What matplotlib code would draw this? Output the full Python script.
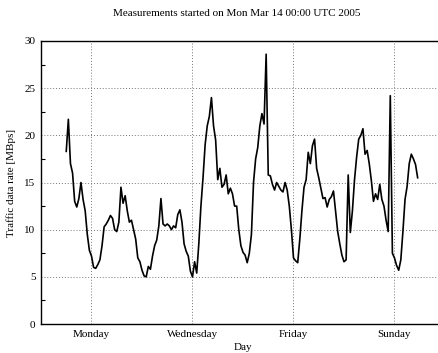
import numpy as np
import matplotlib
matplotlib.use("Agg")
import matplotlib.pyplot as plt
from matplotlib.ticker import MultipleLocator

# hourly traffic rate [MBps], starting Mon Mar 14 00:00 UTC 2005
rate = [
    # Monday
    18.3, 21.7, 17.0, 16.0, 13.0, 12.4, 13.3, 15.0, 13.2, 12.0, 9.5, 7.8,
    7.2, 6.0, 5.9, 6.3, 6.8, 8.3, 10.3, 10.6, 11.0, 11.5, 11.2, 10.0,
    # Tuesday
    9.8, 10.8, 14.5, 12.8, 13.6, 12.0, 10.8, 11.0, 10.0, 9.0, 7.0, 6.6,
    5.7, 5.1, 5.0, 6.1, 5.8, 7.2, 8.3, 8.9, 10.4, 13.3, 10.6, 10.4,
    # Wednesday
    10.6, 10.4, 10.0, 10.4, 10.2, 11.6, 12.1, 10.8, 8.5, 7.7, 7.2, 5.6,
    5.0, 6.6, 5.4, 8.5, 12.5, 15.5, 19.0, 21.0, 22.0, 24.0, 21.0, 19.5,
    # Thursday
    15.3, 16.5, 14.5, 14.8, 15.8, 13.8, 14.4, 13.8, 12.5, 12.5, 10.0, 8.3,
    7.6, 7.3, 6.5, 7.5, 9.5, 15.0, 17.5, 18.7, 21.0, 22.3, 21.2, 28.6,
    # Friday
    15.8, 15.7, 14.8, 14.2, 15.0, 14.6, 14.2, 14.0, 15.0, 14.2, 12.5, 10.0,
    7.0, 6.7, 6.5, 9.0, 12.0, 14.5, 15.3, 18.2, 17.0, 18.9, 19.6, 16.5,
    # Saturday
    15.5, 14.4, 13.3, 13.4, 12.4, 13.2, 13.5, 14.1, 12.0, 9.8, 8.5, 7.3,
    6.6, 6.8, 15.8, 9.7, 12.0, 15.3, 17.7, 19.6, 20.0, 20.7, 18.0, 18.4,
    # Sunday
    17.0, 15.2, 13.0, 13.8, 13.2, 14.8, 13.2, 12.5, 11.0, 9.8, 24.2, 7.5,
    7.0, 6.2, 5.7, 6.8, 9.8, 13.2, 14.6, 17.0, 18.0, 17.5, 16.9, 15.5,
]
day_ticks = [12, 60, 108, 156]
day_labels = ["Monday", "Wednesday", "Friday", "Sunday"]

plt.rcParams["font.family"] = ["Liberation Serif", "DejaVu Serif"]
plt.rcParams["font.size"] = 8

hours = np.arange(len(rate))

fig = plt.figure(figsize=(4.39, 3.53), dpi=100)
ax = fig.add_axes([41 / 439, 29 / 353, 404 / 439, 283 / 353])
ax.plot(hours, rate, color="black", lw=1.2)

ax.set_xlim(-12, 180)
ax.set_ylim(0, 30)
ax.set_xticks(day_ticks)
ax.set_xticklabels(day_labels)
ax.yaxis.set_major_locator(MultipleLocator(5))
ax.yaxis.set_minor_locator(MultipleLocator(2.5))
ax.tick_params(axis="both", which="major", length=0, pad=4)
ax.tick_params(axis="y", which="minor", direction="in", length=3, width=0.8)
ax.grid(True, which="major", color="#777777", linestyle=(0, (1, 2)), lw=0.7)
for s in ax.spines.values():
    s.set_linewidth(1.0)
ax.spines["right"].set_visible(False)

ax.set_xlabel("Day", labelpad=3)
ax.set_ylabel("Traffic data rate [MBps]", labelpad=6)
fig.text(237 / 439, 1 - 14 / 353, "Measurements started on Mon Mar 14 00:00 UTC 2005",
         ha="center", va="center", fontsize=8)

fig.savefig("out.png", dpi=100)
